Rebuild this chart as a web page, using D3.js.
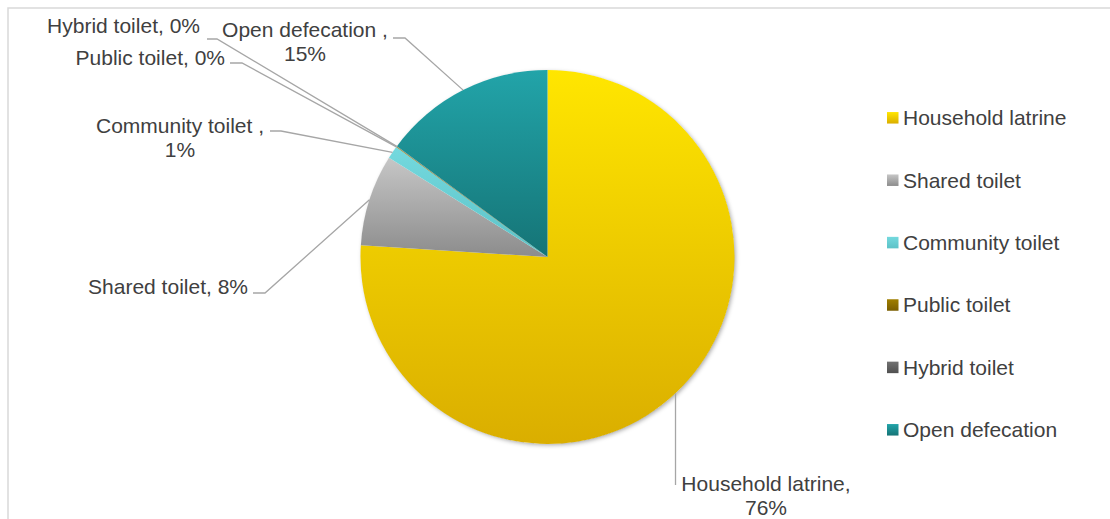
<!DOCTYPE html>
<html>
<head>
<meta charset="utf-8">
<script src="https://cdn.jsdelivr.net/npm/d3@7"></script>
<style>
  html, body { margin: 0; padding: 0; background: #fff; }
  svg { display: block; }
  text { font-family: "Liberation Sans", Arial, sans-serif; fill: #404040; }
</style>
</head>
<body>
<svg id="chart" width="1110" height="519"></svg>
<script>
// ---- data ----
const categories = ["Household latrine", "Shared toilet", "Community toilet", "Public toilet", "Hybrid toilet", "Open defecation"];
const values = [76.0, 7.9, 1.1, 0.05, 0.05, 14.9];
const valueLabels = ["76%", "8%", "1%", "0%", "0%", "15%"];
const labelNames = ["Household latrine,", "Shared toilet,", "Community toilet ,", "Public toilet,", "Hybrid toilet,", "Open defecation ,"];
const colorTop = ["#FFE600", "#C6C6C6", "#74D9DE", "#A07F00", "#727272", "#22A4A9"];
const colorBottom = ["#DAAE00", "#8C8C8C", "#5CC2C7", "#7A5E00", "#505050", "#157476"];

// ---- layout (not data) ----
const W = 1110, H = 519;
const cx = 547.5, cy = 257, R = 187;
// label layout: text anchor point, wrap, leader start and elbow
const labelLayout = [
  { x: 766, y: 491, anchor: "middle", wrap: true,  start: null,       elbow: [676, 485] },
  { x: 248, y: 294, anchor: "end",    wrap: false, start: [253, 293], elbow: [265, 293] },
  { x: 180, y: 133, anchor: "middle", wrap: true,  start: [270, 131], elbow: [281, 131] },
  { x: 225, y: 64.5, anchor: "end",   wrap: false, start: [230, 63],  elbow: [242, 63] },
  { x: 200, y: 32.5, anchor: "end",   wrap: false, start: [207, 39],  elbow: [217, 39] },
  { x: 305, y: 36.5, anchor: "middle", wrap: true, start: [393, 38],  elbow: [405, 38] }
];
const legendX = 887, legendY0 = 117.8, legendStep = 62.4, legendBox = 11.5;

const svg = d3.select("#chart");
const defs = svg.append("defs");

// gradients
categories.forEach((c, i) => {
  const g = defs.append("linearGradient")
    .attr("id", "grad" + i)
    .attr("x1", 0).attr("y1", 0).attr("x2", 0).attr("y2", 1);
  g.append("stop").attr("offset", "0%").attr("stop-color", colorTop[i]);
  g.append("stop").attr("offset", "100%").attr("stop-color", colorBottom[i]);
});
const f = defs.append("filter").attr("id", "shadow")
  .attr("x", "-10%").attr("y", "-10%").attr("width", "120%").attr("height", "120%");
f.append("feDropShadow").attr("dx", 1.5).attr("dy", 1.5).attr("stdDeviation", 2.2)
  .attr("flood-color", "#000").attr("flood-opacity", 0.35);

// frame
svg.append("rect")
  .attr("x", 8).attr("y", 8).attr("width", 1300).attr("height", 700)
  .attr("fill", "none").attr("stroke", "#D9D9D9").attr("stroke-width", 1.5);

// pie
const pie = d3.pie().sort(null).value(d => d.v);
const data = categories.map((c, i) => ({ c, v: values[i], i }));
const arcs = pie(data);
const arc = d3.arc().innerRadius(0).outerRadius(R);

const g = svg.append("g").attr("transform", `translate(${cx},${cy})`);
const shadowG = g.append("g").attr("filter", "url(#shadow)");
shadowG.append("circle").attr("r", R - 0.5).attr("fill", "#fff");
g.selectAll("path.slice")
  .data(arcs.filter(a => a.endAngle - a.startAngle > 0.0001))
  .join("path")
  .attr("class", "slice")
  .attr("d", arc)
  .attr("fill", d => `url(#grad${d.data.i})`);

// leader lines and labels
const edge = d3.arc().innerRadius(R).outerRadius(R);
arcs.forEach((a, i) => {
  const L = labelLayout[i];
  const mid = (a.startAngle + a.endAngle) / 2;
  const px = cx + R * Math.sin(mid), py = cy - R * Math.cos(mid);
  const pts = [];
  if (L.start) pts.push(L.start);
  pts.push(L.elbow);
  pts.push([px, py]);
  if (!L.start) { pts[0] = [px, L.elbow[1]]; }
  svg.append("path")
    .attr("d", d3.line()(pts))
    .attr("fill", "none")
    .attr("stroke", "#A6A6A6")
    .attr("stroke-width", 1.3);

  const t = svg.append("text")
    .attr("x", L.x).attr("y", L.y)
    .attr("text-anchor", L.anchor)
    .style("font-size", "21px");
  if (L.wrap) {
    t.append("tspan").attr("x", L.x).attr("y", L.y).text(labelNames[i]);
    t.append("tspan").attr("x", L.x).attr("y", L.y + 24).text(valueLabels[i]);
  } else {
    t.text(labelNames[i] + " " + valueLabels[i]);
  }
});

// legend
const leg = svg.append("g");
categories.forEach((c, i) => {
  const yc = legendY0 + i * legendStep;
  leg.append("rect")
    .attr("x", legendX).attr("y", yc - legendBox / 2)
    .attr("width", legendBox).attr("height", legendBox)
    .attr("fill", `url(#grad${i})`);
  leg.append("text")
    .attr("x", legendX + 16).attr("y", yc + 7.3)
    .style("font-size", "21px")
    .text(c);
});
</script>
</body>
</html>
